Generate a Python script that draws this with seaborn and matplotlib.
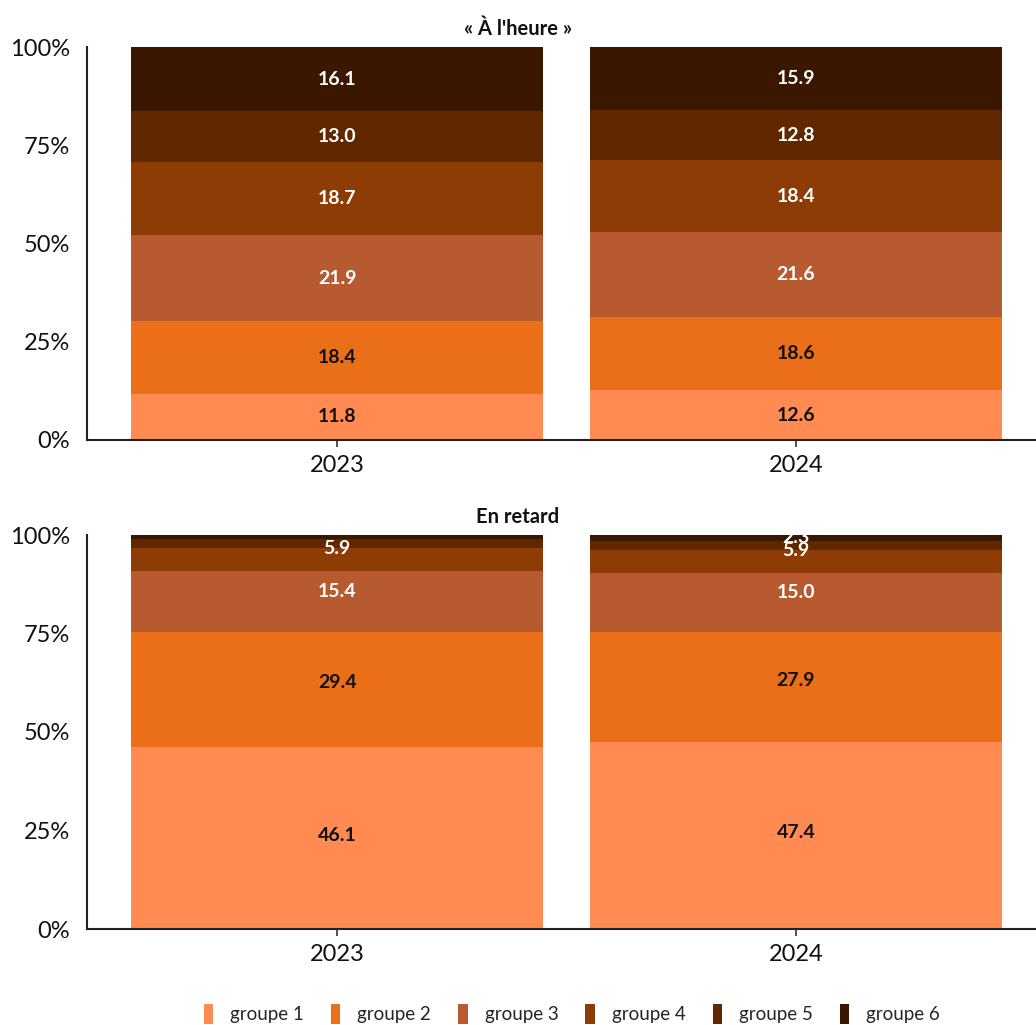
import numpy as np
import pandas as pd
import matplotlib
matplotlib.use("Agg")
import matplotlib.pyplot as plt
import seaborn as sns
from matplotlib.patches import Patch

sns.set_style("white")
plt.rcParams['font.family'] = ['Lato', 'DejaVu Sans']

years = ["2023", "2024"]
groups = ["groupe 1", "groupe 2", "groupe 3", "groupe 4", "groupe 5", "groupe 6"]
panel_titles = ["« À l'heure »", "En retard"]

# values per group (rows) for 2023, 2024
a_l_heure = [
    [11.8, 12.6],
    [18.4, 18.6],
    [21.9, 21.6],
    [18.7, 18.4],
    [13.0, 12.8],
    [16.1, 15.9],
]
en_retard = [
    [46.1, 47.4],
    [29.4, 27.9],
    [15.4, 15.0],
    [5.9, 5.9],
    [2.2, 2.3],
    [1.0, 1.5],
]

colors = ["#FF8A52", "#EB6E18", "#B85A2F", "#8C3C04", "#612800", "#3C1700"]
text_colors = ["#111111", "#111111", "white", "white", "white", "white"]
label_min = 2.25

W, H = 1036, 1025
fig = plt.figure(figsize=(W / 100, H / 100), dpi=100)
ax_top = fig.add_axes([87 / W, (H - 440) / H, (W - 87) / W, 393 / H])
ax_bot = fig.add_axes([87 / W, (H - 929) / H, (W - 87) / W, 394 / H])

XL = (-0.545, 1.523)
for ax, data, title, shift in [(ax_top, a_l_heure, panel_titles[0], 1.0),
                               (ax_bot, en_retard, panel_titles[1], 1.03)]:
    bottom = np.zeros(len(years))
    for gi, g in enumerate(groups):
        vals = np.array(data[gi], dtype=float)
        df = pd.DataFrame({"year": years, "value": vals})
        sns.barplot(data=df, x="year", y="value", order=years, color=colors[gi],
                    width=0.898, bottom=bottom, ax=ax, errorbar=None,
                    saturation=1, linewidth=0)
        for xi, v in enumerate(vals):
            if v >= label_min:
                ax.text(xi, min((bottom[xi] + v / 2) * shift, 99.3), f"{v:.1f}",
                        ha="center", va="center",
                        color=text_colors[gi], fontsize=14, fontweight="bold")
        bottom = bottom + vals
    ax.set_xlim(*XL)
    ax.set_ylim(0, 100)
    ax.set_yticks([0, 25, 50, 75, 100])
    ax.set_yticklabels(["0%", "25%", "50%", "75%", "100%"])
    ax.set_xlabel("")
    ax.set_ylabel("")
    sns.despine(ax=ax, top=True, right=True)
    for s in ["left", "bottom"]:
        ax.spines[s].set_color("#222222")
        ax.spines[s].set_linewidth(1.5)
    ax.tick_params(axis="y", length=0, labelsize=17, pad=12, labelcolor="#111111")
    ax.tick_params(axis="x", length=5, width=1.2, color="#333333", labelsize=17,
                   pad=6, labelcolor="#111111", bottom=True)
    title_x = (W / 2 - 87) / (W - 87) * (XL[1] - XL[0]) + XL[0]
    ax.text(title_x, 102, title, ha="center", va="bottom", fontsize=14.5,
            fontweight="bold", color="#111111")

handles = [Patch(facecolor=c, edgecolor="none", label=g) for c, g in zip(colors, groups)]
fig.legend(handles=handles, loc="center", bbox_to_anchor=(0.552, 1 - 1014 / H), ncol=6,
           frameon=False, fontsize=13.5, handlelength=0.5, handleheight=1.3,
           handletextpad=0.9, columnspacing=1.45)

fig.savefig("out.png", dpi=100)
